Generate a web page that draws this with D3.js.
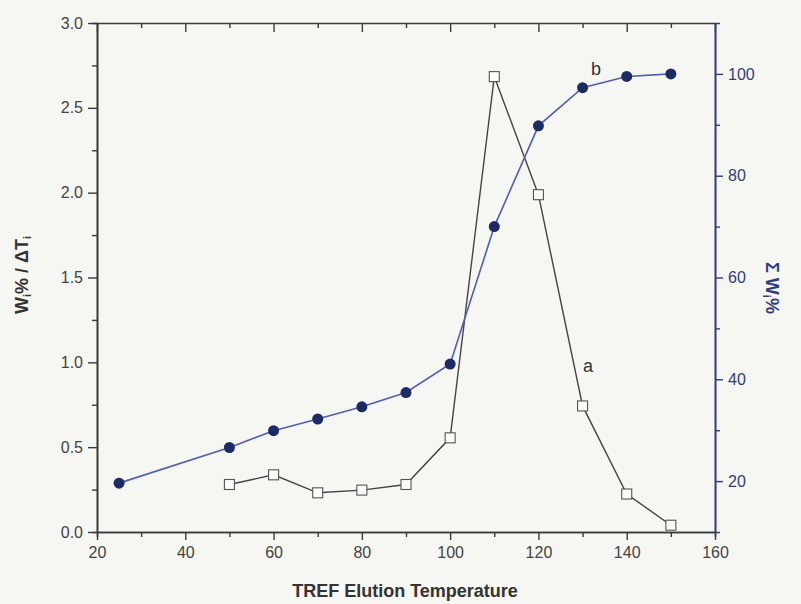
<!DOCTYPE html>
<html>
<head>
<meta charset="utf-8">
<title>TREF</title>
<style>
  body { margin: 0; background: #f6f6f2; }
  text { font-family: "Liberation Sans", Arial, sans-serif; }
</style>
</head>
<body>
<div id="chart"></div>
<script src="https://cdn.jsdelivr.net/npm/d3@7"></script>
<script>

// series a : Wi% / dTi (left axis)
var tempA = [50, 60, 70, 80, 90, 100, 110, 120, 130, 140, 150];
var valA  = [0.28, 0.337, 0.231, 0.247, 0.28, 0.555, 2.684, 1.988, 0.743, 0.224, 0.04];

// series b : cumulative Wi% (right axis)
var tempB = [25, 50, 60, 70, 80, 90, 100, 110, 120, 130, 140, 150];
var valB  = [19.6, 26.6, 29.9, 32.2, 34.6, 37.4, 43.0, 70.0, 89.8, 97.3, 99.5, 100];

var xTicks = [20, 40, 60, 80, 100, 120, 140, 160];
var leftTicks = [0, 0.5, 1.0, 1.5, 2.0, 2.5, 3.0];
var rightTicks = [20, 40, 60, 80, 100];

var width = 801, height = 604;
var plotL = 97, plotR = 715, plotT = 23, plotB = 532;
var axisCol = "#3a3a3a", blue = "#2f3d80", lineBlue = "#4f5fb5", dotBlue = "#1c2a66";

var svg = d3.select("#chart").append("svg")
    .attr("width", width)
    .attr("height", height);

svg.append("rect").attr("width", width).attr("height", height).attr("fill", "#f6f6f2");

var x = d3.scaleLinear().domain([20, 160]).range([plotL, plotR]);
var yL = d3.scaleLinear().domain([0, 3]).range([plotB, plotT]);
var yR = d3.scaleLinear().domain([10, 110]).range([plotB, plotT]);

function styleAxis(g, col) {
    g.selectAll("path").attr("stroke", col).attr("stroke-width", 1.6);
    g.selectAll("line").attr("stroke", col).attr("stroke-width", 1.4);
    g.selectAll("text").attr("fill", col).style("font-size", "16px");
}

// minor ticks first
svg.append("g").attr("transform", "translate(0," + plotB + ")")
    .call(d3.axisBottom(x).tickValues(d3.range(30, 160, 20)).tickSize(5).tickFormat(""))
    .call(function(g) { styleAxis(g, axisCol); });
svg.append("g").attr("transform", "translate(0," + plotT + ")")
    .call(d3.axisBottom(x).tickValues(d3.range(30, 160, 20)).tickSize(5).tickFormat(""))
    .call(function(g) { styleAxis(g, axisCol); g.select("path").remove(); });
svg.append("g").attr("transform", "translate(" + plotL + ",0)")
    .call(d3.axisLeft(yL).tickValues([0.25, 0.75, 1.25, 1.75, 2.25, 2.75]).tickSize(5).tickFormat(""))
    .call(function(g) { styleAxis(g, axisCol); });
svg.append("g").attr("transform", "translate(" + plotR + ",0)")
    .call(d3.axisRight(yR).tickValues([30, 50, 70, 90]).tickSize(5).tickFormat(""))
    .call(function(g) { styleAxis(g, blue); });

// top axis (inward ticks)
svg.append("g").attr("transform", "translate(0," + plotT + ")")
    .call(d3.axisBottom(x).tickValues(xTicks).tickSize(9).tickSizeOuter(0).tickFormat(""))
    .call(function(g) { styleAxis(g, axisCol); });

// bottom axis
svg.append("g").attr("transform", "translate(0," + plotB + ")")
    .call(d3.axisBottom(x).tickValues(xTicks).tickSize(8).tickSizeOuter(0).tickPadding(7))
    .call(function(g) { styleAxis(g, axisCol); g.selectAll("text").attr("fill", "#444"); });

// left axis
svg.append("g").attr("transform", "translate(" + plotL + ",0)")
    .call(d3.axisLeft(yL).tickValues(leftTicks).tickSize(9).tickSizeOuter(0).tickPadding(5)
        .tickFormat(d3.format(".1f")))
    .call(function(g) { styleAxis(g, axisCol); g.selectAll("text").attr("fill", "#444"); });

// right axis
svg.append("g").attr("transform", "translate(" + plotR + ",0)")
    .call(d3.axisRight(yR).tickValues(rightTicks).tickSize(8).tickSizeOuter(0).tickPadding(5))
    .call(function(g) { styleAxis(g, blue); });

// series a
var ptsA = tempA.map(function(t, i) { return [t, valA[i]]; });
svg.append("path")
    .datum(ptsA)
    .attr("fill", "none")
    .attr("stroke", "#444")
    .attr("stroke-width", 1.4)
    .attr("d", d3.line().x(function(d) { return x(d[0]); }).y(function(d) { return yL(d[1]); }));

// series b
var ptsB = tempB.map(function(t, i) { return [t, valB[i]]; });
svg.append("path")
    .datum(ptsB)
    .attr("fill", "none")
    .attr("stroke", lineBlue)
    .attr("stroke-width", 1.6)
    .attr("d", d3.line().x(function(d) { return x(d[0]); }).y(function(d) { return yR(d[1]); }));

svg.append("g").selectAll("rect")
    .data(ptsA)
    .enter().append("rect")
    .attr("x", function(d) { return x(d[0]) - 5; })
    .attr("y", function(d) { return yL(d[1]) - 5; })
    .attr("width", 10)
    .attr("height", 10)
    .attr("fill", "#fbfbf8")
    .attr("stroke", "#555")
    .attr("stroke-width", 1.1);

svg.append("g").selectAll("circle")
    .data(ptsB)
    .enter().append("circle")
    .attr("cx", function(d) { return x(d[0]); })
    .attr("cy", function(d) { return yR(d[1]); })
    .attr("r", 5.5)
    .attr("fill", dotBlue);

// curve labels
svg.append("text").attr("x", 596).attr("y", 75).attr("text-anchor", "middle")
    .style("font-size", "18px").attr("fill", "#333").text("b");
svg.append("text").attr("x", 588).attr("y", 372).attr("text-anchor", "middle")
    .style("font-size", "18px").attr("fill", "#333").text("a");

// axis titles
svg.append("text")
    .attr("x", 405).attr("y", 597)
    .attr("text-anchor", "middle")
    .style("font-size", "18px").style("font-weight", "bold").attr("fill", "#333")
    .text("TREF Elution Temperature");

var lt = svg.append("text")
    .attr("transform", "translate(28,275) rotate(-90)")
    .attr("text-anchor", "middle")
    .style("font-size", "18px").style("font-weight", "bold").attr("fill", "#333");
lt.append("tspan").text("W");
lt.append("tspan").attr("baseline-shift", "-25%").style("font-size", "11px").text("i");
lt.append("tspan").text("% / ΔT");
lt.append("tspan").attr("baseline-shift", "-25%").style("font-size", "11px").text("i");

var rt = svg.append("text")
    .attr("transform", "translate(766,288) rotate(90)")
    .attr("text-anchor", "middle")
    .style("font-size", "18px").style("font-weight", "bold").attr("fill", blue);
rt.append("tspan").text("Σ W");
rt.append("tspan").attr("baseline-shift", "-25%").style("font-size", "11px").text("i");
rt.append("tspan").text("%");

</script>
</body>
</html>
